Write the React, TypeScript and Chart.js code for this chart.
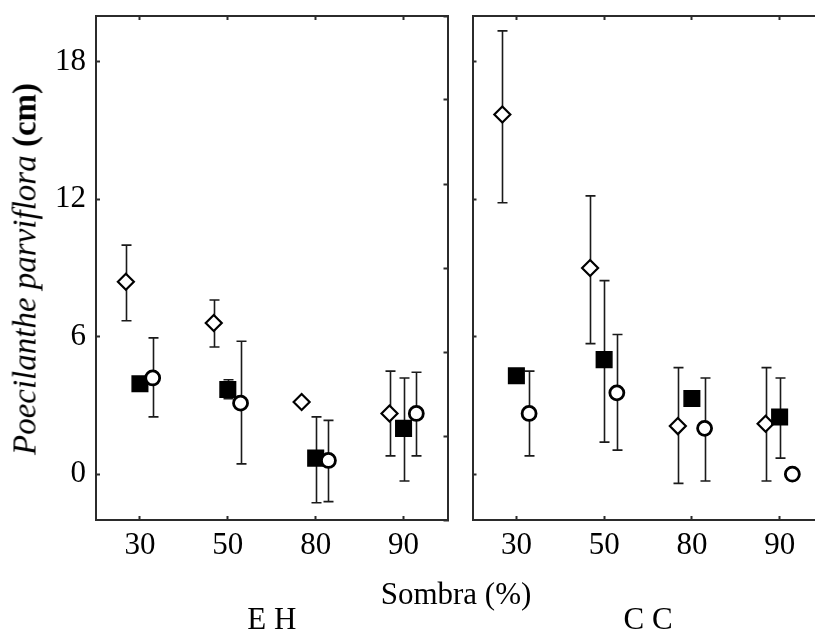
import { useEffect, useRef } from "react";
import { Chart, registerables } from "chart.js";

Chart.register(...registerables);

// Category labels (Sombra %) and y ticks
const shadeLabels = ["30", "50", "80", "90"];
const yTickValues = [0, 6, 12, 18];

// Panel "E H"
const ehDiamond = [8.4, 6.6, 3.15, 2.65];
const ehDiamondLow = [6.7, 5.55, null, 0.8];
const ehDiamondHigh = [10.0, 7.6, null, 4.5];
const ehSquare = [3.95, 3.7, 0.7, 2.0];
const ehSquareLow = [null, 3.3, -1.25, -0.3];
const ehSquareHigh = [null, 4.12, 2.5, 4.2];
const ehCircle = [4.2, 3.1, 0.6, 2.65];
const ehCircleLow = [2.5, 0.45, -1.2, 0.8];
const ehCircleHigh = [5.95, 5.8, 2.35, 4.45];

// Panel "C C"
const ccDiamond = [15.7, 9.0, 2.1, 2.2];
const ccDiamondLow = [11.85, 5.7, -0.4, -0.3];
const ccDiamondHigh = [19.35, 12.15, 4.65, 4.65];
const ccSquare = [4.3, 5.0, 3.3, 2.5];
const ccSquareLow = [null, 1.4, null, 0.7];
const ccSquareHigh = [null, 8.45, null, 4.2];
const ccCircle = [2.65, 3.55, 2.0, 0];
const ccCircleLow = [0.8, 1.05, -0.3, null];
const ccCircleHigh = [4.5, 6.1, 4.2, null];

const FONT = '"Liberation Serif", "Times New Roman", serif';
const AXIS = "#2b2b2b";
const DIAMOND_OFFSET = -0.16;
const CIRCLE_OFFSET = 0.145;

const errorBarPlugin = {
  id: "errorBars",
  beforeDatasetsDraw(chart: any) {
    const ctx = chart.ctx;
    const yScale = chart.scales.y;
    chart.data.datasets.forEach((ds: any, i: number) => {
      const lo = ds.errLow;
      const hi = ds.errHigh;
      if (!lo || !hi) return;
      const meta = chart.getDatasetMeta(i);
      meta.data.forEach((pt: any, j: number) => {
        if (lo[j] == null || hi[j] == null) return;
        const x = Math.round(pt.x) + 0.5;
        const y1 = yScale.getPixelForValue(lo[j]);
        const y2 = yScale.getPixelForValue(hi[j]);
        ctx.save();
        ctx.strokeStyle = "#1a1a1a";
        ctx.lineWidth = 1.6;
        ctx.beginPath();
        ctx.moveTo(x, y1);
        ctx.lineTo(x, y2);
        ctx.moveTo(x - 5, y1);
        ctx.lineTo(x + 5, y1);
        ctx.moveTo(x - 5, y2);
        ctx.lineTo(x + 5, y2);
        ctx.stroke();
        ctx.restore();
      });
    });
  },
};

const noPad = (s: any) => {
  s.paddingTop = 0;
  s.paddingBottom = 0;
  s.paddingLeft = 0;
  s.paddingRight = 0;
};

type PanelProps = {
  left: number;
  width: number;
  yAxisWidth: number;
  showYLabels: boolean;
  name: string;
  diamond: number[];
  diamondLow: (number | null)[];
  diamondHigh: (number | null)[];
  square: number[];
  squareLow: (number | null)[];
  squareHigh: (number | null)[];
  circle: number[];
  circleLow: (number | null)[];
  circleHigh: (number | null)[];
};

function Panel(p: PanelProps) {
  const ref = useRef<HTMLCanvasElement | null>(null);
  useEffect(() => {
    if (!ref.current) return;
    const areaWidth = 354;
    const rightWidth = p.width - p.yAxisWidth - areaWidth;
    const catTicks = (s: any) => {
      s.ticks = shadeLabels.map((_, i) => ({ value: i }));
    };
    const tickGrid = {
      drawOnChartArea: false,
      drawTicks: true,
      tickLength: -4,
      tickWidth: 2,
      color: AXIS,
    };
    const chart = new Chart(ref.current, {
      type: "scatter",
      data: {
        datasets: [
          {
            label: "circle",
            order: 0,
            data: p.circle.map((v, i) => ({ x: i + CIRCLE_OFFSET, y: v })),
            errLow: p.circleLow,
            errHigh: p.circleHigh,
            pointStyle: "circle",
            pointRadius: 7,
            pointBorderWidth: 2.8,
            pointBackgroundColor: "#fff",
            pointBorderColor: "#000",
          } as any,
          {
            label: "square",
            order: 1,
            data: p.square.map((v, i) => ({ x: i, y: v })),
            errLow: p.squareLow,
            errHigh: p.squareHigh,
            pointStyle: "rect",
            pointRadius: 11,
            pointBorderWidth: 1.5,
            pointBackgroundColor: "#000",
            pointBorderColor: "#000",
          } as any,
          {
            label: "diamond",
            order: 2,
            data: p.diamond.map((v, i) => ({ x: i + DIAMOND_OFFSET, y: v })),
            errLow: p.diamondLow,
            errHigh: p.diamondHigh,
            pointStyle: "rectRot",
            pointRadius: 8,
            pointBorderWidth: 2.2,
            pointBackgroundColor: "#fff",
            pointBorderColor: "#000",
          } as any,
        ],
      },
      options: {
        responsive: false,
        maintainAspectRatio: false,
        animation: false,
        layout: { padding: 0 },
        plugins: {
          legend: { display: false },
          tooltip: { enabled: false },
        },
        scales: {
          x: {
            type: "linear",
            position: "bottom",
            min: -0.5,
            max: 3.5,
            afterBuildTicks: catTicks,
            afterFit: (s: any) => {
              s.height = 112;
              noPad(s);
            },
            ticks: {
              callback: (v: any) => shadeLabels[v] ?? "",
              font: { family: FONT, size: 31, lineHeight: 1.2 },
              color: "#000",
              padding: 11,
              maxRotation: 0,
              autoSkip: false,
            },
            grid: tickGrid,
            border: { display: true, color: AXIS, width: 2 },
            title: {
              display: true,
              text: p.name,
              color: "#000",
              font: { family: FONT, size: 31, lineHeight: 1.2 },
              padding: { top: 0, bottom: -7 },
            },
          },
          x2: {
            type: "linear",
            position: "top",
            min: -0.5,
            max: 3.5,
            afterBuildTicks: catTicks,
            afterFit: (s: any) => {
              s.height = 16;
              noPad(s);
            },
            ticks: { display: false },
            grid: tickGrid,
            border: { display: true, color: AXIS, width: 2 },
          },
          y: {
            type: "linear",
            position: "left",
            min: -2,
            max: 20,
            afterBuildTicks: (s: any) => {
              s.ticks = yTickValues.map((v) => ({ value: v }));
            },
            afterFit: (s: any) => {
              s.width = p.yAxisWidth;
              noPad(s);
            },
            ticks: {
              display: p.showYLabels,
              font: { family: FONT, size: 31, lineHeight: 1.2 },
              color: "#000",
              padding: 14,
            },
            grid: tickGrid,
            border: { display: true, color: AXIS, width: 2 },
          },
          y2: {
            type: "linear",
            position: "right",
            min: 0,
            max: 6,
            ticks: { display: false, stepSize: 1 },
            afterFit: (s: any) => {
              s.width = rightWidth;
              noPad(s);
            },
            grid: tickGrid,
            border: { display: true, color: AXIS, width: 2 },
          },
        },
      } as any,
      plugins: [errorBarPlugin],
    });
    return () => chart.destroy();
  }, []);
  return (
    <canvas
      ref={ref}
      width={p.width}
      height={632}
      style={{ position: "absolute", left: p.left, top: 0, width: p.width, height: 632 }}
    />
  );
}

export default function App() {
  useEffect(() => {
    document.body.style.margin = "0";
  }, []);
  return (
    <div
      style={{
        position: "relative",
        width: 815,
        height: 632,
        overflow: "hidden",
        background: "#fff",
        fontFamily: FONT,
        color: "#000",
      }}
    >
      <Panel
        left={0}
        width={460}
        yAxisWidth={96}
        showYLabels={true}
        name="E H"
        diamond={ehDiamond}
        diamondLow={ehDiamondLow}
        diamondHigh={ehDiamondHigh}
        square={ehSquare}
        squareLow={ehSquareLow}
        squareHigh={ehSquareHigh}
        circle={ehCircle}
        circleLow={ehCircleLow}
        circleHigh={ehCircleHigh}
      />
      <Panel
        left={460}
        width={376}
        yAxisWidth={12}
        showYLabels={false}
        name="C C"
        diamond={ccDiamond}
        diamondLow={ccDiamondLow}
        diamondHigh={ccDiamondHigh}
        square={ccSquare}
        squareLow={ccSquareLow}
        squareHigh={ccSquareHigh}
        circle={ccCircle}
        circleLow={ccCircleLow}
        circleHigh={ccCircleHigh}
      />
      <div
        style={{
          position: "absolute",
          left: 25,
          top: 269,
          transform: "translate(-50%, -50%) rotate(-90deg)",
          whiteSpace: "nowrap",
          fontSize: 33,
          lineHeight: 1,
        }}
      >
        <i>Poecilanthe parviflora</i> <b>(cm)</b>
      </div>
      <div
        style={{
          position: "absolute",
          left: 456,
          top: 593,
          transform: "translate(-50%, -50%)",
          whiteSpace: "nowrap",
          fontSize: 31,
          lineHeight: 1,
        }}
      >
        Sombra (%)
      </div>
    </div>
  );
}
